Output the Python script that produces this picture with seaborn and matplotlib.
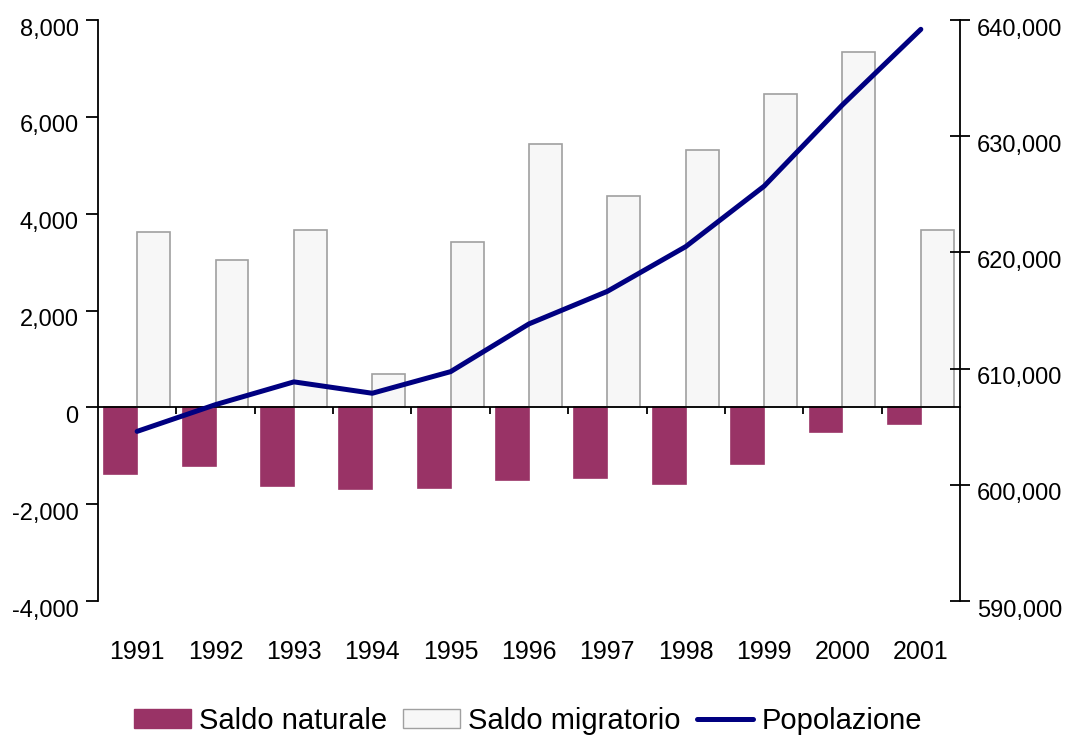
import matplotlib
matplotlib.use("Agg")
import matplotlib.pyplot as plt
import matplotlib.transforms as mtransforms
from matplotlib.ticker import FuncFormatter, FixedLocator
from matplotlib.patches import Patch
from matplotlib.lines import Line2D
import seaborn as sns
import pandas as pd
import numpy as np

# values
years = ['1991', '1992', '1993', '1994', '1995', '1996', '1997', '1998', '1999', '2000', '2001']
saldo_naturale = [-1372, -1204, -1625, -1692, -1667, -1498, -1456, -1582, -1170, -505, -345]
saldo_migratorio = [3620, 3047, 3662, 699, 3418, 5438, 4360, 5311, 6465, 7340, 3662]
popolazione = [604600, 606900, 608860, 607880, 609740, 613850, 616650, 620500, 625700, 632700, 639200]

series_names = ['Saldo naturale', 'Saldo migratorio']
bar_colors = ['#993366', '#f7f7f7']
bar_edges = ['#993366', '#a0a0a0']
line_color = '#000080'

sns.set_style('white')
plt.rcParams['font.family'] = ['Liberation Sans', 'DejaVu Sans']
plt.rcParams['text.color'] = 'black'
plt.rcParams['xtick.color'] = 'black'
plt.rcParams['ytick.color'] = 'black'

df = pd.DataFrame({
    'anno': years * 2,
    'valore': saldo_naturale + saldo_migratorio,
    'serie': [series_names[0]] * len(years) + [series_names[1]] * len(years),
})
df_pop = pd.DataFrame({'pos': np.arange(len(years)), 'popolazione': popolazione})

fig = plt.figure(figsize=(10.73, 7.36), dpi=100)
ax = fig.add_axes([0.0913, 0.1834, 0.8034, 0.7894])

sns.barplot(data=df, x='anno', y='valore', hue='serie', hue_order=series_names,
            palette=bar_colors, width=0.84, gap=0, ax=ax, legend=False,
            saturation=1, err_kws={'linewidth': 0})
for cont, ec in zip(ax.containers, bar_edges):
    for patch in cont:
        patch.set_edgecolor(ec)
        patch.set_linewidth(1.2)

ax.set_xlim(-0.5, len(years) - 0.5)
ax.set_ylim(-4000, 8000)
ax.set_yticks(np.arange(-4000, 8001, 2000))
ax.yaxis.set_major_formatter(FuncFormatter(lambda v, p: f'{int(v):,}'))
ax.set_xlabel('')
ax.set_ylabel('')

# zero line with small ticks between categories
ax.spines['bottom'].set_position(('data', 0))
ax.spines['bottom'].set_linewidth(1.3)
ax.spines['bottom'].set_color('black')
ax.spines['top'].set_visible(False)
ax.spines['right'].set_visible(False)
ax.spines['left'].set_linewidth(1.3)
ax.spines['left'].set_color('black')
ax.xaxis.set_major_locator(FixedLocator(np.arange(len(years) - 1) + 0.5))
ax.tick_params(axis='x', which='major', direction='out', length=5, width=1.3,
               labelbottom=False, bottom=True, color='black')
ax.tick_params(axis='y', direction='out', length=9, width=1.3, labelsize=17,
               left=True, color='black', pad=5)

# year labels along the bottom
sec = ax.secondary_xaxis(0.0)
sec.set_xticks(np.arange(len(years)))
sec.set_xticklabels(years)
sec.tick_params(length=0, labelsize=18, pad=28)
sec.spines['bottom'].set_visible(False)

# population on the right axis
ax2 = ax.twinx()
sns.lineplot(data=df_pop, x='pos', y='popolazione', color=line_color,
             linewidth=3.6, ax=ax2, legend=False)
ax2.set_ylim(590000, 640000)
ax2.set_yticks(np.arange(590000, 640001, 10000))
ax2.yaxis.set_major_formatter(FuncFormatter(lambda v, p: f'{int(v):,}'))
ax2.set_ylabel('')
ax2.set_xlabel('')
for s in ['top', 'left', 'bottom']:
    ax2.spines[s].set_visible(False)
ax2.spines['right'].set_linewidth(1.3)
ax2.spines['right'].set_color('black')
ax2.tick_params(axis='y', direction='inout', length=14, width=1.3, labelsize=17,
                right=True, color='black', pad=5)
ax2.set_xlim(-0.5, len(years) - 0.5)

# tick labels sit a little below their ticks in the original
shift = mtransforms.ScaledTranslation(0, -7 / 100, fig.dpi_scale_trans)
for lab in ax.get_yticklabels() + ax2.get_yticklabels():
    lab.set_transform(lab.get_transform() + shift)

# legend
handles = [Patch(facecolor=bar_colors[0], edgecolor=bar_edges[0]),
           Patch(facecolor=bar_colors[1], edgecolor=bar_edges[1]),
           Line2D([], [], color=line_color, linewidth=3.6)]
fig.legend(handles, series_names + ['Popolazione'], loc='lower center',
           bbox_to_anchor=(0.492, -0.034), ncol=3, frameon=False,
           prop={'size': 21}, handlelength=1.95, handleheight=0.6,
           columnspacing=0.55, handletextpad=0.28)

fig.savefig('out.png', dpi=100)
